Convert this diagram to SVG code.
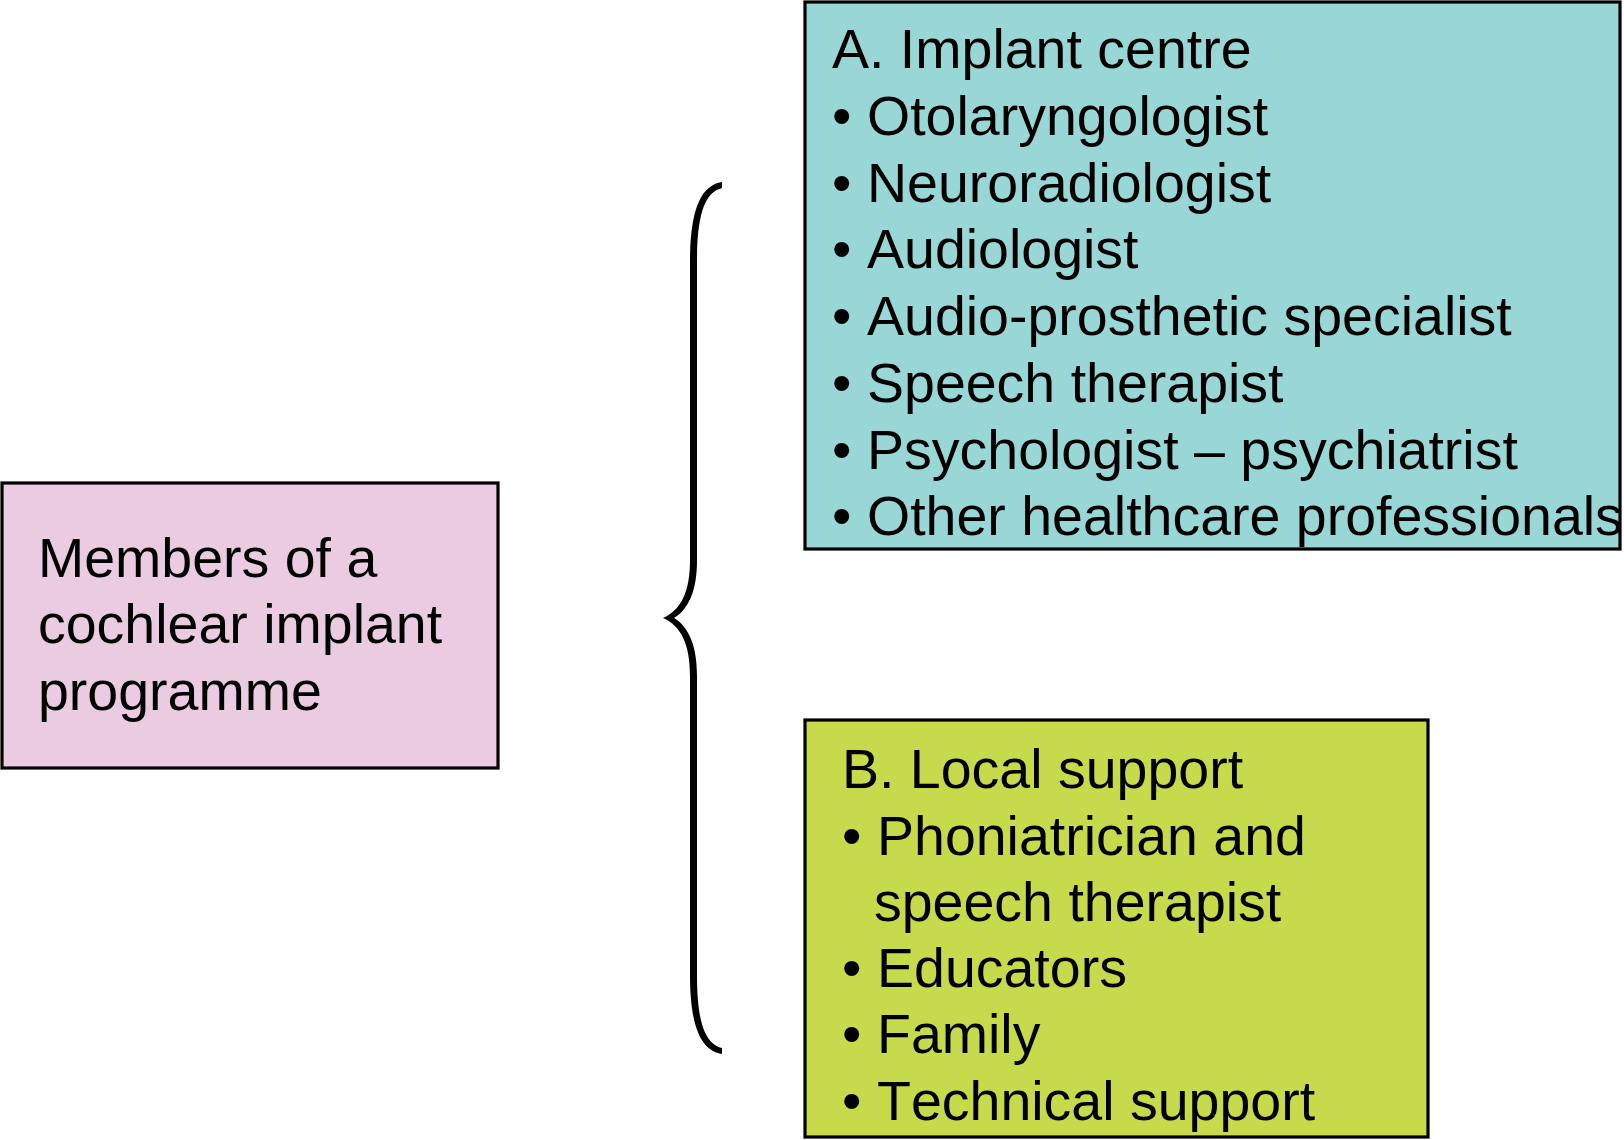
<svg xmlns="http://www.w3.org/2000/svg" width="1624" height="1140" viewBox="0 0 1624 1140">
<style>
.box{stroke:#000;stroke-width:3.2}
.t{font-family:"Liberation Sans",Arial,Helvetica,sans-serif;font-size:55.5px;fill:#000;font-kerning:none}
</style>
<rect width="1624" height="1140" fill="#fff"/>
<g id="connectors">
<path d="M722,182 C703,185 690,205 690,262 L690,560 C690,592 681,610 663,618 C681,626 690,644 690,676 L690,975 C690,1031 703,1051 722,1054 L722,1048 C706,1044 697,1025 697,975 L697,676 C697,646 689,627 674,618 C689,609 697,590 697,560 L697,262 C697,211 706,192 722,188 Z" fill="#000"/>
</g>
<g id="members">
<rect class="box" x="2" y="483" width="496" height="285" fill="#ebcbe2"/>
<text class="t" x="38" y="577">Members of a</text>
<text class="t" x="38" y="643">cochlear implant</text>
<text class="t" x="38" y="710">programme</text>
</g>
<g id="implant-centre">
<rect class="box" x="805" y="2" width="815" height="547" fill="#99d6d6"/>
<text class="t" x="832" y="68">A. Implant centre</text>
<text class="t" y="135"><tspan x="832">•</tspan><tspan x="867">Otolaryngologist</tspan></text>
<text class="t" y="202"><tspan x="832">•</tspan><tspan x="867">Neuroradiologist</tspan></text>
<text class="t" y="268"><tspan x="832">•</tspan><tspan x="867">Audiologist</tspan></text>
<text class="t" y="335"><tspan x="832">•</tspan><tspan x="867">Audio-prosthetic specialist</tspan></text>
<text class="t" y="402"><tspan x="832">•</tspan><tspan x="867">Speech therapist</tspan></text>
<text class="t" y="469"><tspan x="832">•</tspan><tspan x="867">Psychologist – psychiatrist</tspan></text>
<text class="t" y="535"><tspan x="832">•</tspan><tspan x="867">Other healthcare professionals</tspan></text>
</g>
<g id="local-support">
<rect class="box" x="805" y="720" width="623" height="417" fill="#c6da4b"/>
<text class="t" x="842" y="788">B. Local support</text>
<text class="t" y="855"><tspan x="842">•</tspan><tspan x="877">Phoniatrician and</tspan></text>
<text class="t" x="874" y="921">speech therapist</text>
<text class="t" y="987"><tspan x="842">•</tspan><tspan x="877">Educators</tspan></text>
<text class="t" y="1053"><tspan x="842">•</tspan><tspan x="877">Family</tspan></text>
<text class="t" y="1120"><tspan x="842">•</tspan><tspan x="877">Technical support</tspan></text>
</g>
</svg>
